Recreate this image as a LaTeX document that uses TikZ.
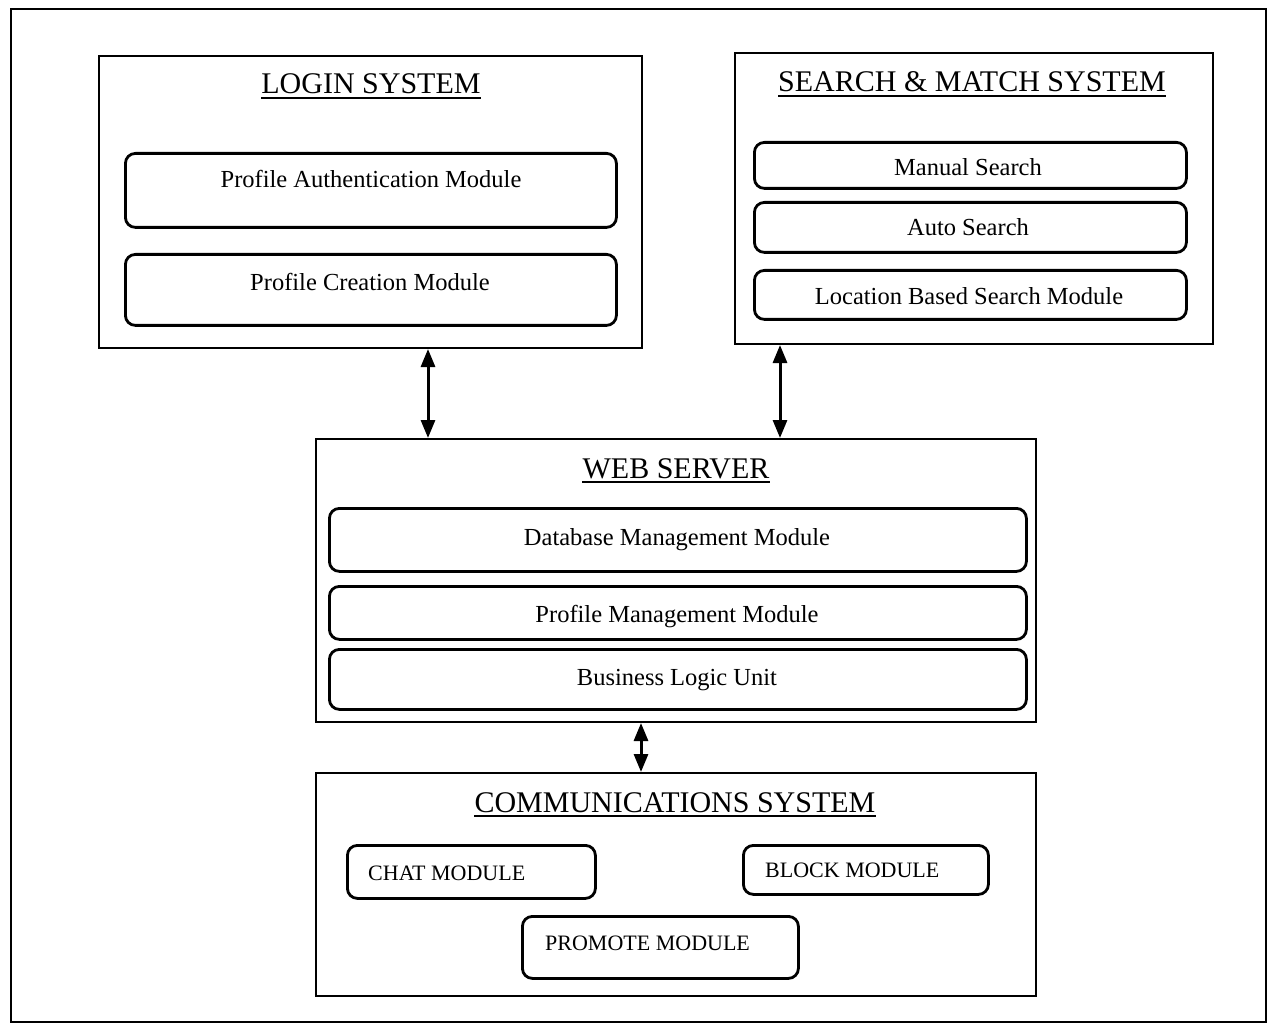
\documentclass[tikz,border=0pt]{standalone}
\usepackage{fontspec}
\setmainfont{Liberation Serif}
\usetikzlibrary{arrows.meta,calc}
\begin{document}
\begin{tikzpicture}[x=1pt,y=-1pt,
  sysbox/.style={draw,line width=2pt,rectangle,inner sep=0pt,anchor=north west},
  modbox/.style={draw,line width=2.8pt,rectangle,rounded corners=10pt,inner sep=0pt,anchor=north west},
  ttl/.style={inner sep=0pt,anchor=base,font=\fontsize{30}{34}\selectfont},
  modtxt/.style={inner sep=0pt,anchor=base,font=\fontsize{24.5}{28}\selectfont},
  captxt/.style={inner sep=0pt,anchor=base west,font=\fontsize{22}{26}\selectfont},
  uline/.style={line width=1.6pt},
  biarrow/.style={line width=3pt,{Triangle[length=18pt,width=14pt]}-{Triangle[length=18pt,width=14pt]}}
]
\useasboundingbox (0,0) rectangle (1272,1024);
% outer frame
\node[sysbox,minimum width=1255,minimum height=1013] (frame) at (10,8) {};

% LOGIN SYSTEM
\node[sysbox,minimum width=543,minimum height=292] (login) at (98,55) {};
\node[ttl] (logint) at (371,94) {LOGIN SYSTEM};
\draw[uline] ([yshift=-4]logint.base west) -- ([yshift=-4]logint.base east);
\node[modbox,minimum width=491,minimum height=74] (auth) at (124,152) {};
\node[modtxt] (autht) at (371,188) {Profile Authentication Module};
\node[modbox,minimum width=491,minimum height=71] (creat) at (124,253) {};
\node[modtxt] (creatt) at (370,291) {Profile Creation Module};

% SEARCH & MATCH SYSTEM
\node[sysbox,minimum width=478,minimum height=291] (search) at (734,52) {};
\node[ttl] (searcht) at (972,92) {SEARCH \& MATCH SYSTEM};
\draw[uline] ([yshift=-4]searcht.base west) -- ([yshift=-4]searcht.base east);
\node[modbox,minimum width=432,minimum height=46] (manual) at (753,141) {};
\node[modtxt] (manualt) at (968,176) {Manual Search};
\node[modbox,minimum width=432,minimum height=50] (auto) at (753,201) {};
\node[modtxt] (autot) at (968,236) {Auto Search};
\node[modbox,minimum width=432,minimum height=49] (loc) at (753,269) {};
\node[modtxt] (loct) at (969,305) {Location Based Search Module};

% WEB SERVER
\node[sysbox,minimum width=720,minimum height=283] (web) at (315,438) {};
\node[ttl] (webt) at (676,478) {WEB SERVER};
\draw[uline] ([yshift=-4]webt.base west) -- ([yshift=-4]webt.base east);
\node[modbox,minimum width=697,minimum height=63] (db) at (328,507) {};
\node[modtxt] (dbt) at (677,545) {Database Management Module};
\node[modbox,minimum width=697,minimum height=53] (pm) at (328,585) {};
\node[modtxt] (pmt) at (677,622) {Profile Management Module};
\node[modbox,minimum width=697,minimum height=60] (blu) at (328,648) {};
\node[modtxt] (blut) at (677,685) {Business Logic Unit};

% COMMUNICATIONS SYSTEM
\node[sysbox,minimum width=720,minimum height=223] (comm) at (315,772) {};
\node[ttl] (commt) at (675,812) {COMMUNICATIONS SYSTEM};
\draw[uline] ([yshift=-4]commt.base west) -- ([yshift=-4]commt.base east);
\node[modbox,minimum width=248,minimum height=53] (chat) at (346,844) {};
\node[captxt] (chatt) at (368,880) {CHAT MODULE};
\node[modbox,minimum width=245,minimum height=49] (block) at (742,844) {};
\node[captxt] (blockt) at (765,877) {BLOCK MODULE};
\node[modbox,minimum width=276,minimum height=62] (promo) at (521,915) {};
\node[captxt] (promot) at (545,950) {PROMOTE MODULE};

% connectors
\coordinate (xa) at (428,0);
\coordinate (xb) at (780,0);
\coordinate (xc) at (641,0);
\draw[biarrow] (login.south -| xa) -- (web.north -| xa);
\draw[biarrow] (search.south -| xb) -- (web.north -| xb);
\draw[biarrow] (web.south -| xc) -- (comm.north -| xc);
\end{tikzpicture}
\end{document}
